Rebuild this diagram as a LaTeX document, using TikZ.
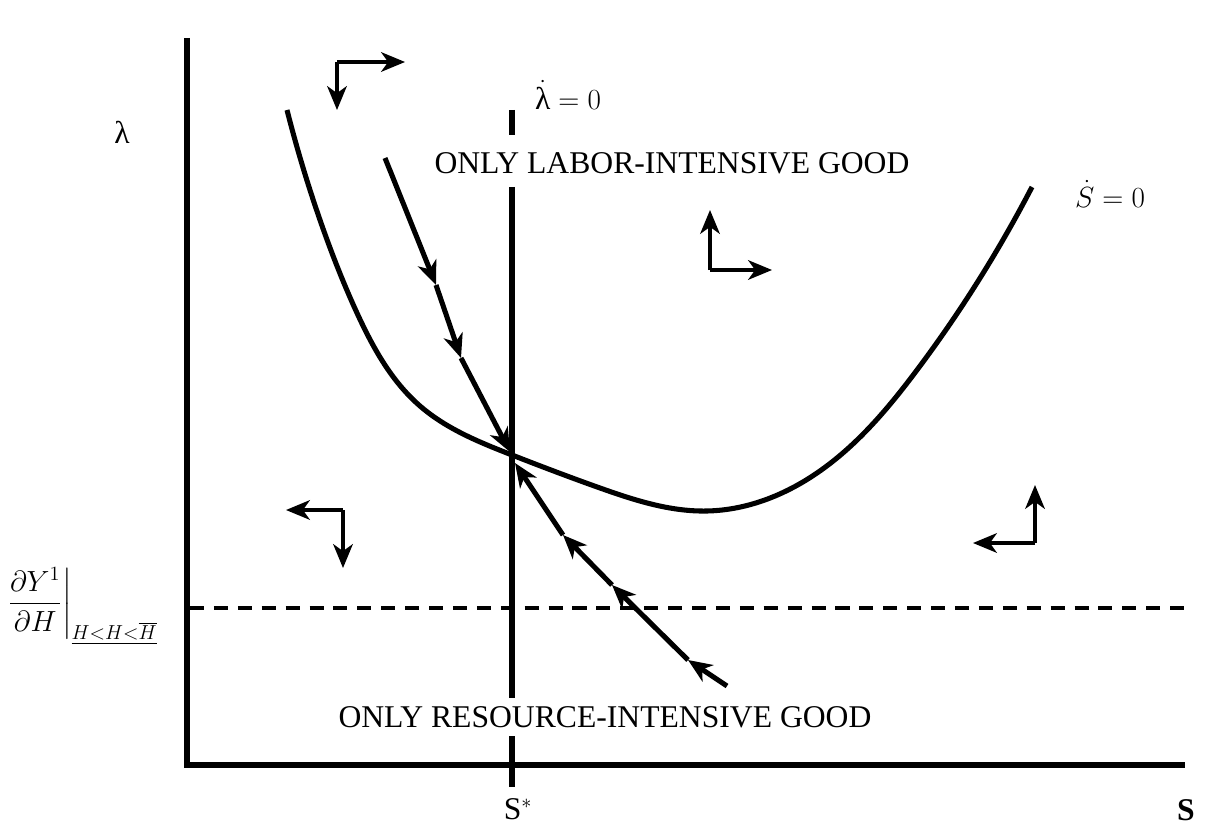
\documentclass[tikz,border=0pt]{standalone}
\usepackage{amsmath}
\usepackage{fontspec}
\setmainfont{Liberation Serif}
\usetikzlibrary{arrows.meta,positioning,hobby}

\tikzset{
  asse/.style={line width=4pt},
  curva/.style={line width=3.6pt},
  sella/.style={line width=3.6pt,-{Stealth[length=17pt,width=14pt,inset=5pt]}},
  freccia/.style={line width=2.2pt,-{Stealth[length=17pt,width=14pt,inset=5pt]}},
  etichetta/.style={font=\fontsize{22.5}{27}\selectfont,inner sep=1pt}
}

\begin{document}
\begin{tikzpicture}[x=0.025cm,y=-0.025cm]
\useasboundingbox (0,0) rectangle (1209,840);

% Assi
\coordinate (O) at (187,765);
\coordinate (ytop) at (187,38);
\coordinate (xend) at (1185,765);
\draw[asse] (ytop) -- (O) -- (xend);

% Livello costante
\coordinate (dl) at (190,608);
\coordinate (dr) at (1185,608);
\draw[line width=2.6pt,dash pattern=on 10pt off 7pt] (dl) -- (dr);

% Retta lambda punto = 0 (interrotta dalle scritte)
\coordinate (v1) at (512,110);
\coordinate (v2) at (512,135);
\coordinate (v3) at (512,187);
\coordinate (v4) at (512,698);
\coordinate (v5) at (512,736);
\coordinate (v6) at (512,787);
\draw[curva] (v1) -- (v2);
\draw[curva] (v3) -- (v4);
\draw[curva] (v5) -- (v6);

% Curva S punto = 0
\draw[curva,use Hobby shortcut] (287,110) .. (320,220) .. (357,313) .. (420,406) .. (512,455) .. (600,488) .. (707,511) .. (817,473) .. (917,370) .. (1032,187);

% Sentiero di sella
\coordinate (a1) at (385,158);
\coordinate (a2) at (436,285);
\coordinate (a3) at (461,358);
\coordinate (E) at (510,452);
\coordinate (b0) at (515,463);
\coordinate (b1) at (563,535);
\coordinate (b2) at (612,585);
\coordinate (b3) at (688,660);
\coordinate (b4) at (727,686);
\draw[sella] (a1) -- (a2);
\draw[sella] (a2) -- (a3);
\draw[sella] (a3) -- (E);
\draw[sella] (b1) -- (b0);
\draw[sella] (b2) -- (b1);
\draw[sella] (b3) -- (b2);
\draw[sella] (b4) -- (b3);

% Direzioni del moto
\coordinate (c1) at (337,62);
\draw[freccia] (c1) -- (405,62);
\draw[freccia] (c1) -- (337,110);
\coordinate (c2) at (710,270);
\draw[freccia] (c2) -- (710,210);
\draw[freccia] (c2) -- (772,270);
\coordinate (c3) at (343,510);
\draw[freccia] (c3) -- (286,510);
\draw[freccia] (c3) -- (343,568);
\coordinate (c4) at (1035,543);
\draw[freccia] (c4) -- (1035,485);
\draw[freccia] (c4) -- (973,543);

% Etichette
\node[etichetta] (lab) at (672,163) {ONLY LABOR-INTENSIVE GOOD};
\node[etichetta] (res) at (605,717) {ONLY RESOURCE-INTENSIVE GOOD};
\node[etichetta] (lam) at (122,132) {λ};
\node[etichetta] (lamdot) at (568,95) {$\dot{\text{λ}} = 0$};
\node[etichetta] (Sdot) at (1110,194) {$\dot{S} = 0$};
\node[etichetta] (Sstar) at (518,809) {S$^*$};
\node[etichetta] (S) at (1186,810) {\textbf{S}};
\node[etichetta] (dYdH) at (82,606) {$\displaystyle\left.\frac{\partial Y^1}{\partial H}\right|_{\underline{H{<}H{<}\overline{H}}}$};
\end{tikzpicture}
\end{document}
